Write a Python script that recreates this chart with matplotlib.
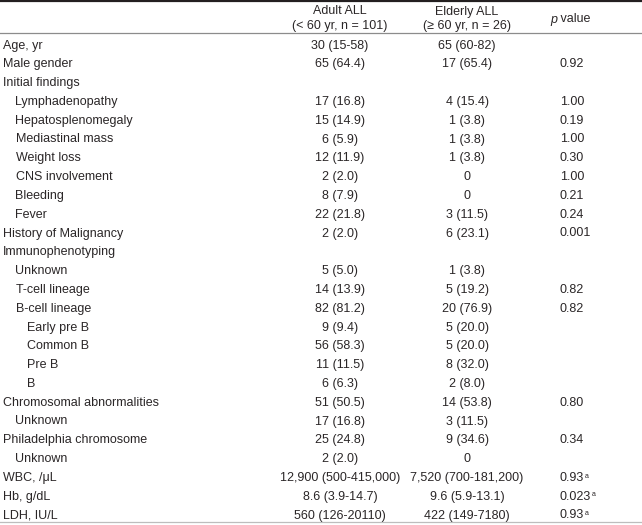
import matplotlib.pyplot as plt

plt.rcParams['font.family'] = ['Liberation Sans', 'DejaVu Sans']

labels = ['Age, yr', 'Male gender', 'Initial findings', 'Lymphadenopathy',
          'Hepatosplenomegaly', 'Mediastinal mass', 'Weight loss',
          'CNS involvement', 'Bleeding', 'Fever', 'History of Malignancy',
          'Immunophenotyping', 'Unknown', 'T-cell lineage', 'B-cell lineage',
          'Early pre B', 'Common B', 'Pre B', 'B', 'Chromosomal abnormalities',
          'Unknown', 'Philadelphia chromosome', 'Unknown', 'WBC, /\u03bcL',
          'Hb, g/dL', 'LDH, IU/L']
levels = [0, 0, 0, 1, 1, 1, 1, 1, 1, 1, 0, 0, 1, 1, 1, 2, 2, 2, 2, 0, 1, 0, 1,
          0, 0, 0]
adult = ['30 (15-58)', '65 (64.4)', '', '17 (16.8)', '15 (14.9)', '6 (5.9)',
         '12 (11.9)', '2 (2.0)', '8 (7.9)', '22 (21.8)', '2 (2.0)', '',
         '5 (5.0)', '14 (13.9)', '82 (81.2)', '9 (9.4)', '56 (58.3)',
         '11 (11.5)', '6 (6.3)', '51 (50.5)', '17 (16.8)', '25 (24.8)',
         '2 (2.0)', '12,900 (500-415,000)', '8.6 (3.9-14.7)', '560 (126-20110)']
elderly = ['65 (60-82)', '17 (65.4)', '', '4 (15.4)', '1 (3.8)', '1 (3.8)',
           '1 (3.8)', '0', '0', '3 (11.5)', '6 (23.1)', '', '1 (3.8)',
           '5 (19.2)', '20 (76.9)', '5 (20.0)', '5 (20.0)', '8 (32.0)',
           '2 (8.0)', '14 (53.8)', '3 (11.5)', '9 (34.6)', '0',
           '7,520 (700-181,200)', '9.6 (5.9-13.1)', '422 (149-7180)']
pvals = ['', '0.92', '', '1.00', '0.19', '1.00', '0.30', '1.00', '0.21',
         '0.24', '0.001', '', '', '0.82', '0.82', '', '', '', '', '0.80', '',
         '0.34', '', '0.93', '0.023', '0.93']
pnote = [''] * 23 + ['a', 'a', 'a']

W, H = 642, 525
fig = plt.figure(figsize=(W / 100, H / 100), dpi=100)
ax = fig.add_axes([0, 0, 1, 1])
ax.set_xlim(0, W)
ax.set_ylim(H, 0)
ax.axis('off')

ink = '#2a2627'
fs = 9
x_label = [3, 15.5, 27]
x_adult, x_eld, x_p = 340, 467, 560
kw = dict(va='baseline', fontsize=fs, color=ink)

# rules
ax.plot([0, W], [1, 1], color='#231f20', lw=1.6)
ax.plot([0, W], [32.5, 32.5], color='#8c8c8c', lw=0.9)
ax.plot([0, W], [522, 522], color='#bdbdbd', lw=0.9)

# header
ax.text(x_adult, 14.5, 'Adult ALL', ha='center', **kw)
ax.text(x_adult, 29.5, '(< 60 yr, n = 101)', ha='center', **kw)
ax.text(x_eld, 14.5, 'Elderly ALL', ha='center', **kw)
ax.text(x_eld, 29.5, '(\u2265 60 yr, n = 26)', ha='center', **kw)
ax.text(557, 22.5, 'p', ha='right', style='italic', **kw)
ax.text(557, 22.5, ' value', ha='left', **kw)

y0, dy = 48.5, 18.8
for i, lab in enumerate(labels):
    y = y0 + i * dy
    ax.text(x_label[levels[i]], y, lab, ha='left', **kw)
    ax.text(x_adult, y, adult[i], ha='center', **kw)
    ax.text(x_eld, y, elderly[i], ha='center', **kw)
    if pvals[i]:
        t = ax.text(x_p, y, pvals[i], ha='left', **kw)
        if pnote[i]:
            ax.annotate(pnote[i], xy=(1.0, 0.95), xycoords=t, xytext=(0.2, 0),
                        textcoords='offset points', ha='left', va='top',
                        fontsize=5, color=ink)

fig.savefig('out.png', dpi=100)
